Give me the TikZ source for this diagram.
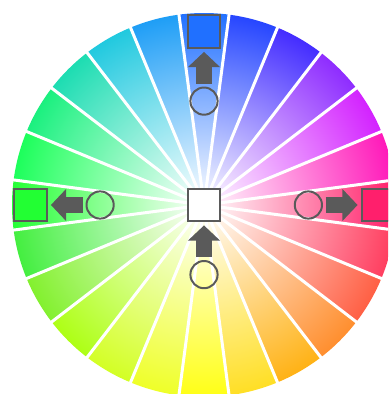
\documentclass[tikz,border=0pt]{standalone}
\usetikzlibrary{arrows.meta,positioning}

\definecolor{markgray}{HTML}{5A5A5A}
\definecolor{topblue}{HTML}{2070FF}
\definecolor{leftgreen}{HTML}{22FF33}
\definecolor{rightred}{HTML}{FF1F6C}

\begin{document}
\begin{tikzpicture}[x=0.025cm, y=0.025cm,
    swatch/.style={draw=markgray, line width=0.05cm, minimum size=0.82cm,
      inner sep=0pt},
    probe/.style={circle, draw=markgray, line width=0.05cm, minimum size=0.68cm,
      inner sep=0pt},
    push/.style={draw=markgray, line width=0.4cm,
      -{Triangle[length=0.38cm, width=0.78cm]},
      shorten <=0.075cm, shorten >=0.075cm},
    gap/.style={draw=white, line width=0.075cm},
  ]
  \useasboundingbox (-204,-189) rectangle (184,205);
  \clip (-204,-189) rectangle (184,205);

  % --- colour wheel: 24 wedges, white centre to full colour at the rim ---
  \foreach \ang/\col in {0/FF1A66, 15/FF14B8, 30/D21EFF, 45/8C28FF,
      60/4028FF, 75/2242FF, 90/1E6EFF, 105/1A9CF6, 120/1CC8DE,
      135/18DCB0, 150/16F07C, 165/18FF58, 180/22FF33, 195/40EE3C,
      210/80F02A, 225/ACFF10, 240/D2FF20, 255/EEFF24, 270/FFFF10,
      285/FFDE20, 300/FFB010, 315/FF8C2A, 330/FF5C40, 345/FF3A5C} {
    \definecolor{segcol}{HTML}{\col}
    \begin{scope}
      \clip (0,0) -- (\ang-7.5:192)
        arc[start angle=\ang-7.5, end angle=\ang+7.5, radius=192] -- cycle;
      \shade[inner color=white, outer color=segcol] (0,0) circle (196);
    \end{scope}
  }
  % white spokes between the wedges
  \foreach \ang in {7.5,22.5,...,352.5}
    \draw[gap] (0,0) -- (\ang:200);

  % --- swatches ---
  \node[swatch, fill=white] (sqmid) at (0,0) {};
  \node[swatch, fill=topblue] (sqtop) at (0,173.5) {};
  \node[swatch, fill=leftgreen] (sqleft) at (-173.5,0) {};
  \node[swatch, fill=rightred] (sqright) at (174,0) {};

  % --- probes ---
  \node[probe, below=0.94cm of sqtop] (ctop) {};
  \node[probe, right=0.94cm of sqleft] (cleft) {};
  \node[probe, left=0.94cm of sqright] (cright) {};
  \node[probe, below=0.94cm of sqmid] (cmid) {};

  % --- push arrows ---
  \draw[push] (ctop) -- (sqtop);
  \draw[push] (cleft) -- (sqleft);
  \draw[push] (cright) -- (sqright);
  \draw[push] (cmid) -- (sqmid);

\end{tikzpicture}
\end{document}
